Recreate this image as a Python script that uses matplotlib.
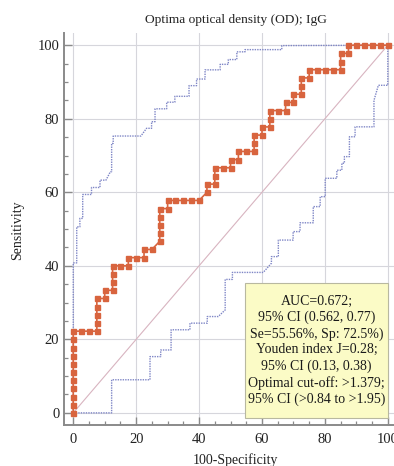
import numpy as np
import matplotlib
matplotlib.use("Agg")
import matplotlib.pyplot as plt
from matplotlib.patches import Rectangle
from matplotlib.ticker import MultipleLocator

plt.rcParams['font.family'] = ['Liberation Serif', 'DejaVu Serif']

# ROC curve, as counts (45 positives, 40 negatives)
n_pos = 45
n_neg = 40
fp_count = [0, 0, 0, 0, 0, 0, 0, 0, 0, 0, 0,
            1, 2, 3, 3, 3, 3, 3, 4, 4, 5, 5, 5, 5, 6, 7, 7, 8, 9, 9, 10,
            11, 11, 11, 11, 11, 12, 12, 13, 14, 15, 16, 17, 17, 18, 18, 18,
            19, 20, 20, 21, 21, 22, 23, 23, 23, 24, 24, 25, 25, 25, 26, 27,
            27, 28, 28, 29, 29, 29, 30, 30, 31, 32, 33, 34, 34, 34, 35, 35,
            36, 37, 38, 39, 40]
tp_count = [0, 1, 2, 3, 4, 5, 6, 7, 8, 9, 10,
            10, 10, 10, 11, 12, 13, 14, 14, 15, 15, 16, 17, 18, 18, 18, 19, 19, 19, 20, 20,
            21, 22, 23, 24, 25, 25, 26, 26, 26, 26, 26, 27, 28, 28, 29, 30,
            30, 30, 31, 31, 32, 32, 32, 33, 34, 34, 35, 35, 36, 37, 37, 37,
            38, 38, 39, 39, 40, 41, 41, 42, 42, 42, 42, 42, 43, 44, 44, 45,
            45, 45, 45, 45, 45]

# 95% confidence bands (dotted), vertices
upper_x = [0, 0, 1.1, 1.1, 2.1, 2.1, 3.0, 3.0, 5.8, 5.8, 8.5, 8.5, 10.4, 11.8,
           12.2, 12.2, 12.7, 12.7, 21.5, 23.3, 24.9, 24.9, 26.0, 26.0, 29.7, 29.7,
           32.3, 32.3, 36.8, 36.8, 39.2, 39.2, 41.9, 41.9, 46.7, 46.7, 49.3, 49.3,
           52.0, 52.0, 54.6, 54.6, 66.3, 66.3, 100]
upper_y = [0, 40.8, 40.8, 50.6, 50.6, 52.9, 52.9, 59.4, 59.4, 61.3, 61.3, 63.3, 63.3, 65.6,
           65.6, 73.3, 73.3, 75.3, 75.3, 77.4, 77.4, 79.2, 79.2, 82.7, 82.7, 84.5,
           84.5, 86.1, 86.1, 89.0, 89.0, 90.8, 90.8, 93.3, 93.3, 94.8, 94.8, 96.1,
           96.1, 98.2, 98.2, 98.8, 98.8, 99.9, 100]
lower_x = [0, 12.2, 12.2, 24.4, 24.4, 27.8, 27.8, 31.1, 31.1, 37.1, 37.1, 42.6, 42.6,
           46.1, 48.3, 48.3, 50.6, 50.6, 60.4, 63.0, 63.0, 65.2, 65.2, 69.9, 69.9,
           72.1, 72.1, 76.3, 76.3, 78.5, 78.5, 80.1, 80.1, 83.8, 83.8, 85.4, 85.4,
           86.2, 86.2, 87.8, 87.8, 89.6, 89.6, 95.6, 95.6, 97.0, 100, 100]
lower_y = [0, 0, 9.0, 9.0, 15.3, 15.3, 17.1, 17.1, 22.6, 22.6, 24.4, 24.4, 26.2,
           26.2, 28.0, 36.3, 36.3, 38.2, 38.2, 40.7, 42.5, 42.5, 47.0, 47.0, 49.3,
           49.3, 51.7, 51.7, 56.1, 56.1, 58.8, 58.8, 63.8, 63.8, 66.0, 66.0, 67.9,
           67.9, 69.7, 69.7, 75.1, 75.1, 77.8, 77.8, 85.0, 89.1, 89.1, 100]

box_lines = ["AUC=0.672;",
             "95% CI (0.562, 0.77)",
             "Se=55.56%, Sp: 72.5%)",
             "Youden index J=0.28;",
             "95% CI (0.13, 0.38)",
             "Optimal cut-off: >1.379;",
             "95% CI (>0.84 to >1.95)"]

roc_x = np.array(fp_count) / n_neg * 100
roc_y = np.array(tp_count) / n_pos * 100

fig = plt.figure(figsize=(3.94, 4.66), dpi=100)
ax = fig.add_axes([0.1612, 0.088, 0.847, 0.841])

ax.set_xlim(-3.1, 103)
ax.set_ylim(-3.3, 103.3)
ax.xaxis.set_major_locator(MultipleLocator(20))
ax.xaxis.set_minor_locator(MultipleLocator(5))
ax.yaxis.set_major_locator(MultipleLocator(20))
ax.yaxis.set_minor_locator(MultipleLocator(5))
ax.grid(True, which='major', color='#d6d6dc', lw=0.8, zorder=0)
ax.set_axisbelow(True)

for side in ['top', 'right']:
    ax.spines[side].set_visible(False)
for side in ['left', 'bottom']:
    ax.spines[side].set_color('#8a8a8a')
    ax.spines[side].set_linewidth(1.4)

ax.tick_params(which='both', direction='in', color='#8a8a8a', labelsize=10.5,
               labelcolor='#222222')
ax.tick_params(which='major', length=6, width=1.0)
ax.tick_params(which='minor', length=3.2, width=0.9)
ax.tick_params(axis='x', pad=6)
ax.tick_params(axis='y', pad=3)

# reference diagonal
ax.plot([0, 100], [0, 100], color='#d8b4c0', lw=0.8, zorder=2)

# confidence bands
ax.plot(upper_x, upper_y, color='#7f86c6', lw=1.0, ls=(0, (1, 0.8)), zorder=3)
ax.plot(lower_x, lower_y, color='#7f86c6', lw=1.0, ls=(0, (1, 0.8)), zorder=3)

# ROC curve
ax.plot(roc_x, roc_y, color='#d8643e', lw=1.2, marker='s', markersize=3.6,
        markeredgecolor='#d8643e', markerfacecolor='#d8643e', zorder=4,
        clip_on=False)

# statistics box
ax.add_patch(Rectangle((54.6, -1.4), 45.6, 36.7, facecolor='#fbfbc6',
                       edgecolor='#b8b8a0', lw=0.8, zorder=6))
ax.text(77.4, 17.0, "\n".join(box_lines), ha='center', va='center',
        fontsize=10, linespacing=1.28, color='#1a1a1a', zorder=7)

fig.text(0.599, 0.957, "Optima optical density (OD); IgG", ha='center',
         va='center', fontsize=9.6, color='#222222')
fig.text(0.046, 0.505, "Sensitivity", rotation=90, ha='center', va='center',
         fontsize=10, color='#222222')
fig.text(0.597, 0.013, "100-Specificity", ha='center', va='center',
         fontsize=10, color='#222222')

fig.savefig("out.png", dpi=100)
